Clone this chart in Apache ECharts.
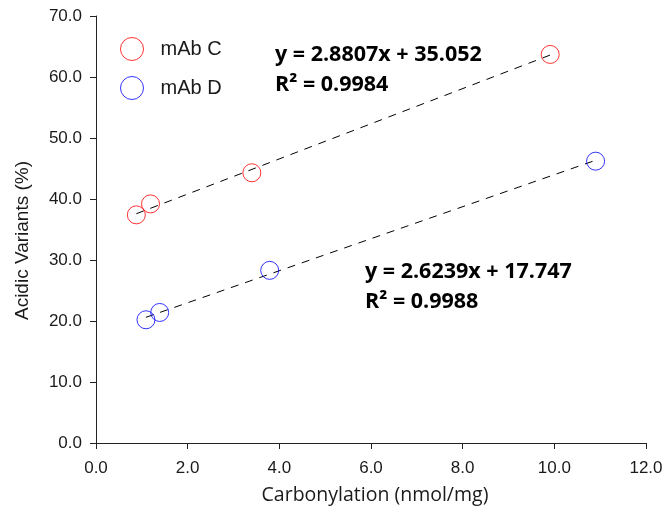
<!DOCTYPE html>
<html>
<head>
<meta charset="utf-8">
<script src="https://cdn.jsdelivr.net/npm/echarts@6/dist/echarts.min.js"></script>
<style>html,body{margin:0;padding:0;background:#fff;}#c{width:666px;height:514px;}</style>
</head>
<body>
<div id="c"></div>
<script>
// Data
const seriesNames = ['mAb C', 'mAb D'];
const mAbC_x = [0.88, 1.19, 3.40, 9.91];
const mAbC_y = [37.4, 39.2, 44.3, 63.7];
const mAbD_x = [1.09, 1.39, 3.79, 10.9];
const mAbD_y = [20.2, 21.4, 28.3, 46.2];
// Linear fits printed on the chart
const fitC = { slope: 2.8807, intercept: 35.052, r2: 0.9984 };
const fitD = { slope: 2.6239, intercept: 17.747, r2: 0.9988 };
const xTicks = [0, 2, 4, 6, 8, 10, 12];
const yTicks = [0, 10, 20, 30, 40, 50, 60, 70];

const pairs = (xs, ys) => xs.map((x, i) => [x, ys[i]]);
const fitLine = (xs, f) => {
  const lo = Math.min(...xs), hi = Math.max(...xs);
  return [[lo, f.slope * lo + f.intercept], [hi, f.slope * hi + f.intercept]];
};

const chart = echarts.init(document.getElementById('c'), null, { renderer: 'canvas' });
const font = '"Liberation Sans", Arial, sans-serif';
const hollow = (c) => ({ color: 'rgba(0,0,0,0)', borderColor: c, borderWidth: 1 });
const eqFont = 'bold 21.5px "Open Sans", "Liberation Sans", sans-serif';

chart.setOption({
  animation: false,
  textStyle: { fontFamily: font },
  grid: { left: 96, right: 20, top: 16, bottom: 71, containLabel: false },
  legend: {
    orient: 'vertical', left: 115, top: 32, itemGap: 15,
    itemWidth: 23, itemHeight: 23,
    textStyle: { fontSize: 20, color: '#1a1a1a', fontFamily: font, padding: [0, 0, 0, 12] },
    data: [
      { name: seriesNames[0], icon: 'circle', itemStyle: hollow('#ff0000') },
      { name: seriesNames[1], icon: 'circle', itemStyle: hollow('#0000ff') }
    ]
  },
  xAxis: {
    type: 'value', min: xTicks[0], max: xTicks[xTicks.length - 1], interval: 2,
    name: 'Carbonylation (nmol/mg)', nameLocation: 'middle', nameGap: 42,
    nameTextStyle: { fontSize: 19.5, color: '#1a1a1a', fontFamily: '"Open Sans", sans-serif', padding: [0, 0, 0, 8] },
    axisLine: { show: true, lineStyle: { color: '#222', width: 1 } },
    axisTick: { show: true, length: 6, lineStyle: { color: '#222' } },
    axisLabel: { fontSize: 17, color: '#1a1a1a', margin: 17, formatter: v => v.toFixed(1) },
    splitLine: { show: false }
  },
  yAxis: {
    type: 'value', min: yTicks[0], max: yTicks[yTicks.length - 1], interval: 10,
    name: 'Acidic Variants (%)', nameLocation: 'middle', nameGap: 64, nameRotate: 90,
    nameTextStyle: { fontSize: 19, color: '#1a1a1a', padding: [0, 22, 0, 0] },
    axisLine: { show: true, lineStyle: { color: '#222', width: 1 } },
    axisTick: { show: true, length: 6, lineStyle: { color: '#222' } },
    axisLabel: { fontSize: 17, color: '#1a1a1a', margin: 14, formatter: v => v.toFixed(1) },
    splitLine: { show: false }
  },
  series: [
    {
      name: seriesNames[0] + ' fit', type: 'line', data: fitLine(mAbC_x, fitC),
      showSymbol: false, silent: true, z: 1,
      lineStyle: { color: '#000', width: 1, type: [8, 7] }
    },
    {
      name: seriesNames[1] + ' fit', type: 'line', data: fitLine(mAbD_x, fitD),
      showSymbol: false, silent: true, z: 1,
      lineStyle: { color: '#000', width: 1, type: [8, 7] }
    },
    {
      name: seriesNames[0], type: 'scatter', data: pairs(mAbC_x, mAbC_y),
      symbol: 'circle', symbolSize: 18, itemStyle: hollow('#ff0000'), z: 3
    },
    {
      name: seriesNames[1], type: 'scatter', data: pairs(mAbD_x, mAbD_y),
      symbol: 'circle', symbolSize: 18, itemStyle: hollow('#0000ff'), z: 3
    }
  ],
  graphic: [
    {
      type: 'text', left: 275, top: 40,
      style: {
        text: 'y = ' + fitC.slope.toFixed(4) + 'x + ' + fitC.intercept.toFixed(3) + '\nR² = ' + fitC.r2.toFixed(4),
        font: eqFont, fill: '#000', lineHeight: 30
      }
    },
    {
      type: 'text', left: 365, top: 257,
      style: {
        text: 'y = ' + fitD.slope.toFixed(4) + 'x + ' + fitD.intercept.toFixed(3) + '\nR² = ' + fitD.r2.toFixed(4),
        font: eqFont, fill: '#000', lineHeight: 30
      }
    }
  ]
});
</script>
</body>
</html>
